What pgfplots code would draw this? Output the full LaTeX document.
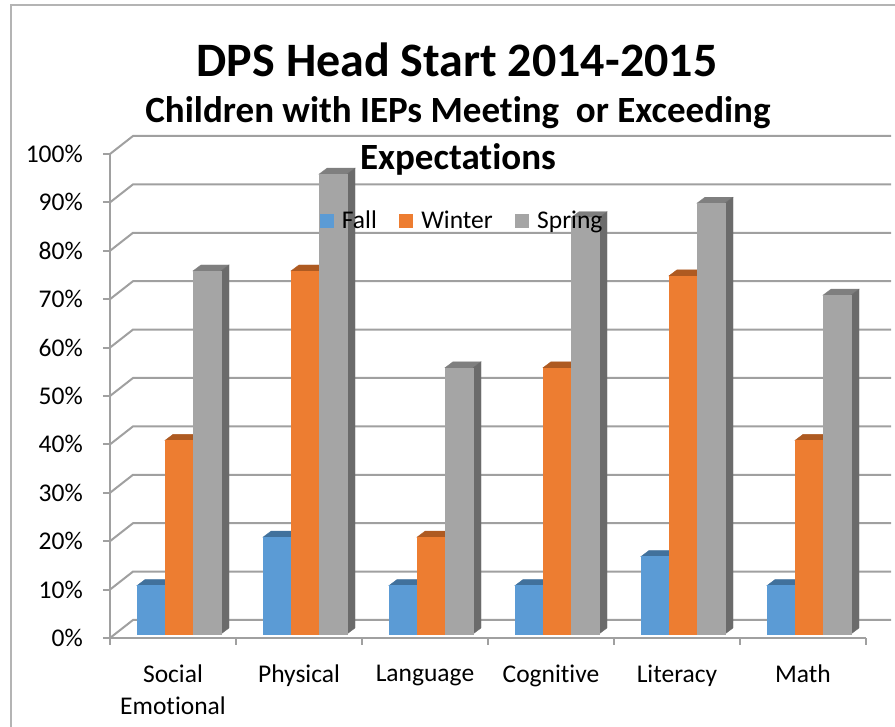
\documentclass[border=0pt]{standalone}
\usepackage{pgfplots}
\pgfplotsset{compat=1.18}
\usepackage{fontspec}
\setmainfont{Carlito}[Ligatures=NoCommon]
\definecolor{fallF}{HTML}{5B9BD5}
\definecolor{fallT}{HTML}{41719C}
\definecolor{winF}{HTML}{ED7D31}
\definecolor{winT}{HTML}{AE5A21}
\definecolor{sprF}{HTML}{A5A5A5}
\definecolor{sprT}{HTML}{7F7F7F}
\definecolor{sprS}{HTML}{6B6B6B}
\definecolor{gridc}{HTML}{A0A0A0}
\definecolor{framec}{HTML}{B4B4B4}

% 3D bar drawn as a plot mark at each data point: #1 name, #2 front, #3 top, #4 side, #5 x shift (pt)
\newcommand\declarebarmark[5]{%
  \pgfdeclareplotmark{#1}{%
    \pgfmathsetmacro\bh{\rawy*4.84}%
    \pgfmathsetmacro\xl{#5+6-14}%
    \pgfmathsetmacro\xr{#5+6+14}%
    \pgfmathsetmacro\xlb{#5+6-14+8}%
    \pgfmathsetmacro\xrb{#5+6+14+8}%
    \pgfmathsetmacro\yb{4-\bh}%
    \pgfmathsetmacro\ybb{10-\bh}%
    \fill[#3] (\xl pt,4pt) -- (\xr pt,4pt) -- (\xrb pt,10pt) -- (\xlb pt,10pt) -- cycle;
    \fill[#4] (\xr pt,4pt) -- (\xrb pt,10pt) -- (\xrb pt,\ybb pt) -- (\xr pt,\yb pt) -- cycle;
    \fill[#2] (\xl pt,\yb pt) rectangle (\xr pt,4pt);}}
\declarebarmark{barfall}{fallF}{fallT}{fallT}{-28}
\declarebarmark{barwin}{winF}{winT}{winT}{0}
\declarebarmark{barspr}{sprF}{sprT}{sprS}{28}

\pgfplotsset{sqlegend/.style={legend image code/.code={%
  \fill[#1] (0pt,-6.5pt) rectangle (13pt,6.5pt);
  \path (20pt,0pt);}}}

\begin{document}
\begin{tikzpicture}
\begin{axis}[
  at={(110pt,89pt)}, anchor=south west,
  x=126pt, y=4.84pt,
  xmin=-0.5, xmax=5.5, ymin=0, ymax=100,
  clip=false,
  axis x line*=bottom, axis y line*=left,
  axis line style={draw=gridc, line width=2pt},
  tick align=outside,
  major tick length=7pt, minor tick length=7pt,
  tick style={draw=gridc, line width=2pt},
  ytick={0,10,...,100},
  yticklabels={0\%,10\%,20\%,30\%,40\%,50\%,60\%,70\%,80\%,90\%,100\%},
  xtick={0,...,5},
  xticklabels={{Social\\Emotional},Physical,Language,Cognitive,Literacy,Math},
  major x tick style={draw=none},
  minor xtick={-0.5,0.5,...,5.5},
  ticklabel style={font=\fontsize{25.5}{32}\selectfont, inner sep=0pt},
  xticklabel style={align=center, anchor=north, yshift=-20pt},
  yticklabel style={anchor=east, xshift=-20pt},
  legend columns=-1,
  legend style={at={(0.4656,0.862)}, anchor=center, draw=none, fill=none,
    font=\fontsize{25.5}{30}\selectfont,
    /tikz/every even column/.append style={column sep=20pt}},
]
\pgfplotsinvokeforeach{0,10,...,100}{
  \draw[gridc, line width=2pt] (axis cs:-0.5,#1) -- ++(23pt,18pt) -- ++(758pt,0pt);
}
\addlegendimage{sqlegend=fallF}\addlegendentry{Fall}
\addlegendimage{sqlegend=winF}\addlegendentry{Winter}
\addlegendimage{sqlegend=sprF}\addlegendentry{Spring}
\addplot[scatter, only marks, mark=barfall, forget plot,
  visualization depends on={y \as \rawy}]
  coordinates {(0,10) (1,20) (2,10) (3,10) (4,16) (5,10)};
\addplot[scatter, only marks, mark=barwin, forget plot,
  visualization depends on={y \as \rawy}]
  coordinates {(0,40) (1,75) (2,20) (3,55) (4,74) (5,40)};
\addplot[scatter, only marks, mark=barspr, forget plot,
  visualization depends on={y \as \rawy}]
  coordinates {(0,75) (1,95) (2,55) (3,86) (4,89) (5,70)};
\end{axis}
\node[font=\bfseries\fontsize{48}{56}\selectfont] at (457pt,667pt) {DPS Head Start 2014-2015};
\node[font=\bfseries\fontsize{37}{47}\selectfont, align=center] at (458pt,591pt)
  {Children with IEPs Meeting\ \ or Exceeding\\Expectations};
\draw[framec, line width=1.5pt] (11pt,-5pt) -- (11pt,722pt) -- (905pt,722pt);
\pgfresetboundingbox
\useasboundingbox (0pt,0pt) rectangle (895pt,727pt);
\end{tikzpicture}
\end{document}
